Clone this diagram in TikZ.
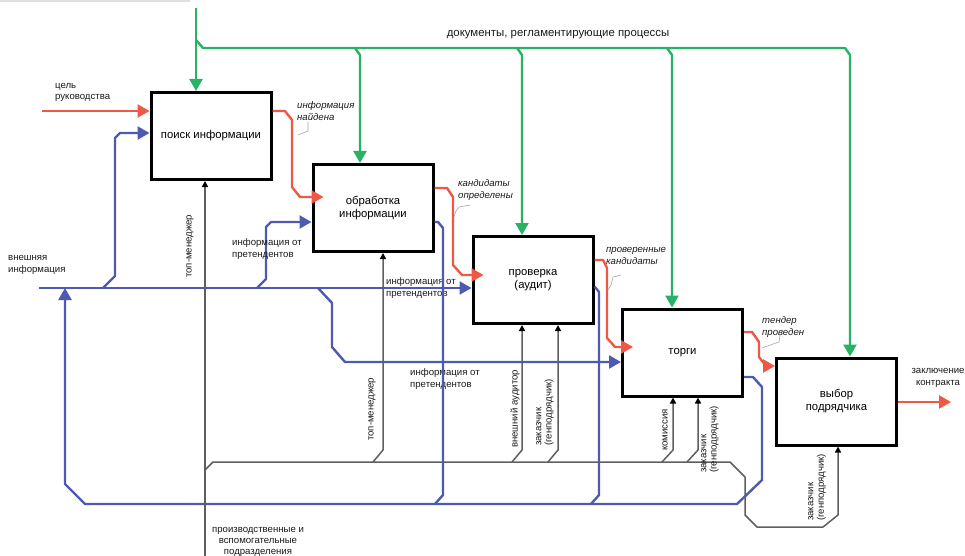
\documentclass[tikz,border=0pt]{standalone}
\usepackage{fontspec}
\setmainfont{Liberation Sans}
\usetikzlibrary{arrows.meta}
\definecolor{cred}{RGB}{240,88,70}
\definecolor{cgreen}{RGB}{40,178,100}
\definecolor{cblue}{RGB}{78,90,178}
\definecolor{cgray}{RGB}{95,95,95}
\tikzset{
  box/.style={draw=black, line width=3pt, minimum width=120pt, minimum height=87pt,
              inner sep=0pt, align=center, font=\fontsize{11.3}{13}\selectfont},
  lbl/.style={font=\fontsize{9.6}{11.3}\selectfont, inner sep=0pt, align=left, text=black!90},
  ilbl/.style={lbl, font=\fontsize{9.6}{11.3}\selectfont\itshape},
  rlbl/.style={lbl, font=\fontsize{9.6}{10.3}\selectfont, rotate=90, anchor=west},
  redline/.style={draw=cred, line width=2.4pt, line join=round},
  greenline/.style={draw=cgreen, line width=2.4pt, line join=round},
  blueline/.style={draw=cblue, line width=2.4pt, line join=round},
  grayline/.style={draw=cgray, line width=1.5pt, line join=round},
  bigtip/.style={-{Triangle[length=12pt,width=13pt]}},
  smalltip/.style={-{Triangle[length=6pt,width=6pt,color=black]}},
  leader/.style={draw=gray!70, line width=0.6pt},
}
\begin{document}
\begin{tikzpicture}[x=1pt,y=-1pt]
\useasboundingbox (0,0) rectangle (965,556);
\draw[gray!25, line width=2pt] (0,1) -- (190,1);

% boxes
\node[box] (b1) at (211,136) {поиск информации};
\node[box] (b2) at (373,208) {обработка\\информации};
\node[box] (b3) at (533,280) {проверка\\(аудит)};
\node[box] (b4) at (682.5,352.5) {торги};
\node[box] (b5) at (836.5,401.5) {выбор\\подрядчика};

% ---------- green controls ----------
\coordinate (gsrc) at (196,8);
\draw[greenline, bigtip] (gsrc) -- (gsrc |- b1.north);
\draw[greenline, bigtip] (196,40) -- (203,48) -- (845,48) -- (850,55) -- (850,0 |- b5.north);
\draw[greenline, bigtip] (355,48) -- (360,55) -- (360,0 |- b2.north);
\draw[greenline, bigtip] (517,48) -- (522,55) -- (522,0 |- b3.north);
\draw[greenline, bigtip] (667,48) -- (672,55) -- (672,0 |- b4.north);
\node[lbl, font=\fontsize{11.4}{13}\selectfont] (tdoc) at (558,35) {документы, регламентирующие процессы};

% ---------- red inputs / outputs ----------
\coordinate (rin) at (42,111);
\draw[redline, bigtip] (rin) -- (rin -| b1.west);
\node[lbl, anchor=west] (tgoal) at (55,92.5) {цель\\руководства};

\draw[redline, bigtip] (b1.east |- 0,111) -- (285,111) -- (292,120) -- (292,187) -- (300,197) -- ([xshift=12pt]b2.west |- 0,197);
\draw[redline, bigtip] (b2.east |- 0,188) -- (447,188) -- (453,197) -- (453,265) -- (462,275) -- ([xshift=12pt]b3.west |- 0,275);
\draw[redline, bigtip] (b3.east |- 0,260) -- (603,260) -- (607,268) -- (607,338) -- (615,347) -- ([xshift=12pt]b4.west |- 0,347);
\draw[redline, bigtip] (b4.east |- 0,332) -- (752,332) -- (759,342) -- (759,357) -- (766,366) -- (b5.west |- 0,366);
\coordinate (rout) at (951,402);
\draw[redline, bigtip] (b5.east |- rout) -- (rout);
\node[lbl, align=center] (tcontract) at (938,378) {заключение\\контракта};

\node[ilbl, anchor=west] (tfound) at (297,111) {информация\\найдена};
\draw[leader] (308,122) -- (308,131) -- (298,135);
\node[ilbl, anchor=west] (tcand) at (458,190) {кандидаты\\определены};
\draw[leader] (470,205) -- (459,207) -- (456,211) -- (454,217);
\node[ilbl, anchor=west] (tcheck) at (606,256) {проверенные\\кандидаты};
\draw[leader] (621,275) -- (613,277) -- (611,285) -- (608,290);
\node[ilbl, anchor=west] (ttender) at (762,327) {тендер\\проведен};
\draw[leader] (780,335) -- (779,342) -- (773,344) -- (762,348);

% ---------- blue inputs ----------
\coordinate (bin) at (39,288);
\draw[blueline, bigtip] (bin) -- (bin -| b3.west);
\node[lbl, anchor=west] (text) at (8,265) {внешняя\\информация};
\draw[blueline, bigtip] (103,288) -- (115,276) -- (115,138) -- (120,133) -- (b1.west |- 0,133);
\draw[blueline, bigtip] (257,288) -- (266,279) -- (266,227) -- (271,222) -- (b2.west |- 0,222);
\draw[blueline, bigtip] (318,288) -- (332,303) -- (332,347) -- (345,362) -- (b4.west |- 0,362);
\node[lbl, anchor=west] (tpret1) at (232,249) {информация от\\претендентов};
\node[lbl, anchor=west] (tpret2) at (386,288) {информация от\\претендентов};
\node[lbl, anchor=west] (tpret3) at (410,379) {информация от\\претендентов};

% ---------- blue feedback ----------
\draw[blueline, bigtip] (b4.east |- 0,377) -- (753,377) -- (762,387) -- (762,480) -- (737,504) -- (85,504) -- (65,484) -- (65,0 |- bin);
\draw[blueline] (b2.east |- 0,222) -- (438,222) -- (443,228) -- (443,495) -- (435,504);
\draw[blueline] (b3.east |- 0,287) -- (595,287) -- (599,292) -- (599,495) -- (591,504);

% ---------- gray mechanisms ----------
\coordinate (msrc) at (205,556);
\draw[grayline, smalltip] (msrc) -- (msrc |- b1.south);
\draw[grayline, smalltip] (205,470) -- (213,462) -- (730,462) -- (745,477) -- (745,515) -- (757,527) -- (823,527) -- (838,515) -- (838,0 |- b5.south);
\draw[grayline, smalltip] (373,462) -- (383,450) -- (383,0 |- b2.south);
\draw[grayline, smalltip] (512,462) -- (522,450) -- (522,0 |- b3.south);
\draw[grayline, smalltip] (548,462) -- (558,450) -- (558,0 |- b3.south);
\draw[grayline, smalltip] (662,462) -- (673,450) -- (673,0 |- b4.south);
\draw[grayline, smalltip] (687,462) -- (698,450) -- (698,0 |- b4.south);
\node[lbl, align=center] (tdept) at (258,542) {производственные и\\вспомогательные\\подразделения};

\node[rlbl] (m1) at (190,278) {топ-менеджер};
\node[rlbl] (m2) at (372,441) {топ-менеджер};
\node[rlbl] (m3) at (515,448) {внешний аудитор};
\node[rlbl] (m4) at (545,446) {заказчик\\(генподрядчик)};
\node[rlbl] (m5) at (665,451) {комиссия};
\node[rlbl] (m6) at (710,473) {заказчик\\(генподрядчик)};
\node[rlbl] (m7) at (817,521) {заказчик\\(генподрядчик)};
\end{tikzpicture}
\end{document}
